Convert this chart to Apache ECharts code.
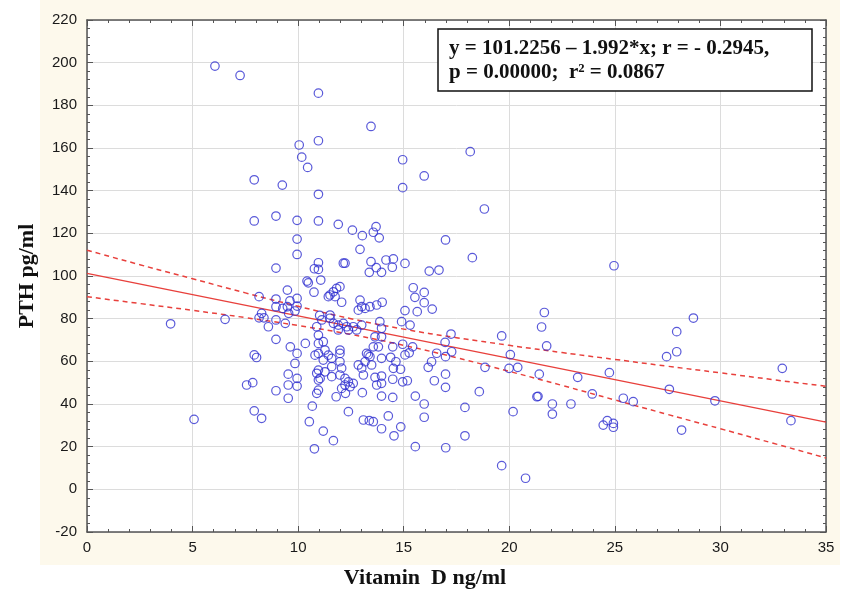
<!DOCTYPE html>
<html>
<head>
<meta charset="utf-8">
<script src="https://cdn.jsdelivr.net/npm/echarts@6/dist/echarts.min.js"></script>
<style>
html,body{margin:0;padding:0;background:#fff;}
#wrap{position:relative;width:846px;height:594px;}
#cream{position:absolute;left:40px;top:0;width:800px;height:565px;background:#fdf9ec;}
#chart{position:absolute;left:0;top:0;width:846px;height:594px;}
</style>
</head>
<body>
<div id="wrap"><div id="cream"></div><div id="chart"></div></div>
<script>
// Vitamin D (ng/ml) values of the points
const vitaminD = [
3.96,5.07,6.06,6.54,7.25,7.56,7.85,7.92,7.92,7.92,8.03,7.92,8.27,8.15,8.27,8.15,8.38,8.59,8.95,8.95,
8.95,8.95,8.95,8.95,8.95,9.25,9.27,9.39,9.49,9.49,9.61,9.55,9.53,9.53,9.53,9.63,9.85,9.85,9.95,9.95,
9.95,9.95,9.95,9.95,9.95,9.95,10.05,10.17,10.45,10.34,10.42,10.48,10.53,10.67,10.75,10.77,10.77,10.88,10.96,10.96,
11.19,11.27,10.96,10.8,11.43,11.19,10.96,10.96,10.96,10.96,10.96,10.96,11.07,11.02,11.12,10.96,11.04,10.96,10.88,11.27,
11.59,11.59,10.96,10.88,11.19,11.67,11.59,11.51,11.67,11.82,11.98,11.75,11.43,12.06,11.9,11.51,11.51,11.67,11.9,12.14,
12.3,12.38,12.61,12.77,13.01,11.9,11.98,11.98,11.98,12.06,11.98,12.22,12.38,12.22,12.46,12.61,12.06,11.8,12.24,12.38,
13.09,13.37,13.56,13.95,14.27,14.54,14.86,12.57,12.93,12.14,12.22,12.93,13.01,12.85,13.17,13.4,13.72,13.98,12.85,13.01,
13.17,13.32,13.09,13.48,13.04,13.04,13.56,13.69,13.84,13.45,13.45,13.7,13.95,13.37,14.16,14.51,14.46,15.06,13.87,13.95,
13.64,13.95,13.8,13.56,13.24,13.4,14.48,14.95,15.42,15.26,14.9,15.3,15.06,13.64,13.95,13.95,13.95,14.48,14.48,14.85,
15.17,14.95,14.95,14.95,15.06,15.45,15.97,15.53,15.97,16.35,15.64,15.97,16.21,16.67,16.98,15.55,15.97,15.97,15.55,16.99,
16.98,16.98,16.45,16.16,16.32,16.56,16.98,17.27,16.96,17.24,17.9,17.9,18.15,18.25,18.58,18.82,18.85,19.64,19.64,19.99,
20.05,20.18,20.4,20.77,21.31,21.36,21.42,21.66,21.53,21.77,22.04,22.04,22.92,23.24,23.93,24.45,24.64,24.93,24.93,24.74,
24.96,25.4,25.87,27.45,27.58,27.93,27.93,28.16,28.72,29.74,32.93,33.34,14.38,14.63,14.51,13.95,13.72
];
// PTH (pg/ml) values of the points
const pth = [
77.6,32.8,198.4,79.7,194.0,48.9,50.0,145.1,125.8,63.0,61.8,36.8,33.3,90.3,82.5,80.4,80.4,76.2,128.1,103.7,
89.2,85.6,79.4,70.3,46.2,142.6,84.8,77.8,93.4,85.6,88.3,82.5,54.0,48.9,42.7,66.8,83.6,59.0,126.1,117.3,
110.1,89.5,85.9,63.7,52.0,48.4,161.4,155.7,150.9,68.4,97.6,96.8,31.7,39.0,92.4,103.4,19.0,76.2,72.3,68.4,
69.2,65.3,63.7,62.9,62.9,60.6,185.7,163.4,138.3,125.8,106.2,103.1,98.1,81.5,79.4,55.9,52.0,51.2,54.4,55.1,
57.5,52.8,46.5,45.0,27.3,22.8,61.4,91.1,92.6,94.2,95.0,90.3,90.3,87.7,124.2,81.7,80.2,77.8,77.0,77.8,
76.2,74.7,76.2,74.7,77.0,74.7,65.3,63.7,59.8,56.8,53.6,52.0,50.4,48.9,48.1,49.7,47.3,43.4,45.0,36.4,
32.5,32.2,31.7,28.4,34.4,25.1,29.3,121.5,112.5,106.0,106.0,88.7,85.6,84.0,84.8,85.6,86.4,87.7,58.3,56.8,
59.8,63.0,53.6,58.3,45.3,118.9,120.5,123.1,117.9,170.1,106.7,103.9,101.7,101.7,107.5,108.0,104.1,105.9,78.6,75.5,
71.5,71.5,66.8,66.8,63.7,62.2,66.8,68.0,66.8,64.0,78.6,77.0,63.0,52.5,53.1,49.7,43.7,51.6,43.1,56.3,
50.9,50.4,154.5,141.4,83.8,94.5,92.3,90.0,87.5,84.5,83.3,146.9,102.3,102.8,116.9,20.0,40.0,33.8,43.7,19.5,
54.0,47.8,50.9,57.2,59.8,63.8,62.2,64.5,68.9,72.8,38.4,25.1,158.3,108.6,45.8,131.4,57.2,11.1,71.9,56.7,
63.1,36.4,57.2,5.2,43.4,43.6,54.0,82.9,76.1,67.2,40.0,35.3,40.0,52.5,44.7,30.1,32.2,30.9,29.1,54.7,
104.8,42.7,41.1,62.2,46.9,64.5,73.9,27.8,80.3,41.5,56.7,32.2,61.9,59.8,56.7,61.4,48.9
];
// regression line end points
const fitX = [0, 35];
const fitY = [101.2256, 31.5056];
// 95% band
const bandX = [0,2.5,5,7.5,10,12.5,15,17.5,20,22.5,25,27.5,30,32.5,35];
const bandUpper = [112.1,105.3,98.7,92.1,85.8,80.0,75.1,71.1,67.5,64.1,60.9,57.7,54.6,51.4,48.3];
const bandLower = [90.3,87.1,83.9,80.5,76.8,72.6,67.5,61.7,55.3,48.7,41.9,35.1,28.4,21.6,14.7];
const annotLines = ['y = 101.2256 \u2013 1.992*x; r = - 0.2945,', 'p = 0.00000;  r\u00b2 = 0.0867'];
const xTitle = 'Vitamin  D ng/ml';
const yTitle = 'PTH pg/ml';

const chart = echarts.init(document.getElementById('chart'), null, {renderer:'canvas', width:846, height:594});
const axisCol = '#555';
const labelStyle = {fontSize:15, color:'#1a1a1a', fontFamily:'Liberation Sans'};
function mkX(pos, labels){
  return {type:'value', min:0, max:35, interval:5, position:pos,
    axisLine:{show:true, onZero:false, lineStyle:{color:axisCol, width:1.5}},
    axisTick:{show:true, inside:true, length:6, lineStyle:{color:axisCol, width:1}},
    minorTick:{show:true, splitNumber:5, length:3, lineStyle:{color:axisCol, width:1}},
    splitLine:{show:labels, lineStyle:{color:'#dcdcdc', width:1}},
    axisLabel:Object.assign({show:labels, margin:8}, labelStyle)};
}
function mkY(pos, labels){
  const a = {type:'value', min:-20, max:220, interval:20, position:pos,
    axisLine:{show:true, onZero:false, lineStyle:{color:axisCol, width:1.5}},
    axisTick:{show:true, inside:true, length:6, lineStyle:{color:axisCol, width:1}},
    minorTick:{show:true, splitNumber:5, length:3, lineStyle:{color:axisCol, width:1}},
    splitLine:{show:labels, lineStyle:{color:'#dcdcdc', width:1}},
    axisLabel:Object.assign({show:labels, margin:10}, labelStyle)};
  if(labels){
    a.name = yTitle; a.nameLocation='middle'; a.nameGap=49;
    a.nameTextStyle = {fontFamily:'Liberation Serif', fontWeight:'bold', fontSize:22, color:'#111'};
  }
  return a;
}
const redCol = '#e8403c';
chart.setOption({
  backgroundColor:'transparent',
  animation:false,
  grid:{left:87, right:20, top:20, bottom:62, show:true, backgroundColor:'#fff', borderWidth:0},
  xAxis:[mkX('bottom', true), mkX('top', false)],
  yAxis:[mkY('left', true), mkY('right', false)],
  graphic:[
    {type:'text', x:425, y:578, z:10, style:{text:xTitle, font:'bold 22px "Liberation Serif"', fill:'#111', align:'center', verticalAlign:'middle'}},
    {type:'rect', z:50, shape:{x:438, y:29, width:374, height:62}, style:{fill:'#fff', stroke:'#111', lineWidth:1.5}},
    {type:'text', z:51, x:449, y:49, style:{text:annotLines[0], font:'bold 21px "Liberation Serif"', fill:'#111', align:'left', verticalAlign:'middle'}},
    {type:'text', z:51, x:449, y:73, style:{text:annotLines[1], font:'bold 21px "Liberation Serif"', fill:'#111', align:'left', verticalAlign:'middle'}}
  ],
  series:[
    {type:'line', data:bandX.map((x,i)=>[x,bandUpper[i]]), smooth:true, showSymbol:false, silent:true,
      lineStyle:{color:redCol, width:1.5, type:[5,4]}, z:3},
    {type:'line', data:bandX.map((x,i)=>[x,bandLower[i]]), smooth:true, showSymbol:false, silent:true,
      lineStyle:{color:redCol, width:1.5, type:[5,4]}, z:3},
    {type:'line', data:fitX.map((x,i)=>[x,fitY[i]]), showSymbol:false, silent:true,
      lineStyle:{color:redCol, width:1.5}, z:3},
    {type:'scatter', data:vitaminD.map((x,i)=>[x,pth[i]]), symbol:'circle', symbolSize:8.5, z:4,
      itemStyle:{color:'rgba(0,0,0,0)', borderColor:'#3030d0', borderWidth:1.2}}
  ]
});
</script>
</body>
</html>
